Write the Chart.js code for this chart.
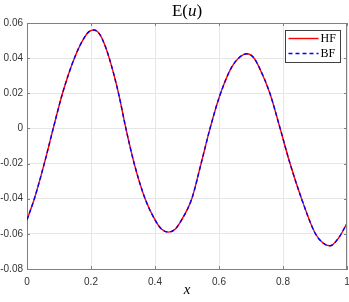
<!DOCTYPE html>
<html>
<head>
<meta charset="utf-8">
<script src="https://cdn.jsdelivr.net/npm/chart.js@4"></script>
<style>
  html, body { margin: 0; padding: 0; background: #fff; }
</style>
</head>
<body>
<canvas id="chart" width="349" height="302"></canvas>
<script>
// values
const xs = [0, 0.023, 0.054, 0.082, 0.111, 0.148, 0.18, 0.195, 0.209, 0.222, 0.235, 0.257, 0.286, 0.309,
  0.335, 0.369, 0.40, 0.42, 0.442, 0.462, 0.48, 0.515, 0.544, 0.572, 0.603, 0.64, 0.665, 0.687, 0.708, 0.725,
  0.759, 0.791, 0.822, 0.858, 0.90, 0.925, 0.947, 0.975, 1.0];
const hf = [-0.052, -0.040, -0.020, 0.000, 0.020, 0.040, 0.052, 0.0552, 0.056, 0.0548, 0.051, 0.040, 0.020, 0.000,
  -0.020, -0.040, -0.052, -0.0572, -0.059, -0.0575, -0.053, -0.040, -0.020, 0.000, 0.019, 0.035, 0.0406, 0.0425, 0.0404, 0.035,
  0.020, 0.000, -0.020, -0.040, -0.0595, -0.0652, -0.0668, -0.062, -0.054];
const bf = [-0.052, -0.040, -0.020, 0.000, 0.020, 0.040, 0.052, 0.0552, 0.056, 0.0548, 0.051, 0.040, 0.020, 0.000,
  -0.020, -0.040, -0.052, -0.0572, -0.059, -0.0575, -0.053, -0.040, -0.020, 0.000, 0.019, 0.035, 0.0406, 0.0425, 0.0404, 0.035,
  0.020, 0.000, -0.020, -0.040, -0.0595, -0.0652, -0.0668, -0.062, -0.054];
const xTicks = [0, 0.2, 0.4, 0.6, 0.8, 1];
const yTicks = [-0.08, -0.06, -0.04, -0.02, 0, 0.02, 0.04, 0.06];
const seriesNames = ["HF", "BF"];
const titleParts = ["E(", "u", ")"];
const xLabel = "x";

const axisColor = "#808080";
const gridColor = "#e6e6e6";
const serif = "'Liberation Serif', 'DejaVu Serif', serif";
const sans = "'Liberation Sans', Arial, sans-serif";

// MATLAB style box, inner ticks, title and legend
const matlabBox = {
  id: "matlabBox",
  afterDraw(chart) {
    const ctx = chart.ctx;
    const { left, right, top, bottom } = chart.chartArea;
    const sx = chart.scales.x, sy = chart.scales.y;
    ctx.save();
    ctx.strokeStyle = axisColor;
    ctx.lineWidth = 1;
    ctx.beginPath();
    ctx.moveTo(left, top + 0.5); ctx.lineTo(right, top + 0.5);
    ctx.moveTo(right - 0.5, top); ctx.lineTo(right - 0.5, bottom);
    for (const v of xTicks) {
      const p = Math.round(sx.getPixelForValue(v)) + 0.5;
      ctx.moveTo(p, bottom); ctx.lineTo(p, bottom - 3);
      ctx.moveTo(p, top); ctx.lineTo(p, top + 3);
    }
    for (const v of yTicks) {
      const p = Math.round(sy.getPixelForValue(v)) + 0.5;
      ctx.moveTo(left, p); ctx.lineTo(left + 3, p);
      ctx.moveTo(right, p); ctx.lineTo(right - 3, p);
    }
    ctx.stroke();

    // title
    ctx.fillStyle = "#000";
    ctx.textBaseline = "alphabetic";
    const fonts = ["17px " + serif, "italic 17px " + serif, "17px " + serif];
    let w = 0;
    titleParts.forEach((t, i) => { ctx.font = fonts[i]; w += ctx.measureText(t).width; });
    let tx = (left + right) / 2 - w / 2;
    titleParts.forEach((t, i) => {
      ctx.font = fonts[i];
      ctx.fillText(t, tx, 16);
      tx += ctx.measureText(t).width;
    });

    // legend
    const lx = 285.5, ly = 30.5, lw = 55, lh = 32;
    ctx.fillStyle = "#fff";
    ctx.fillRect(lx, ly, lw, lh);
    ctx.strokeStyle = "#404040";
    ctx.strokeRect(lx, ly, lw, lh);
    chart.data.datasets.forEach((ds, i) => {
      const y = ly + 8 + i * 15;
      ctx.strokeStyle = ds.borderColor;
      ctx.lineWidth = ds.borderWidth;
      ctx.setLineDash(ds.borderDash || []);
      ctx.beginPath();
      ctx.moveTo(lx + 3, y); ctx.lineTo(lx + 33, y);
      ctx.stroke();
      ctx.setLineDash([]);
      ctx.fillStyle = "#000";
      ctx.font = "12px " + serif;
      ctx.textBaseline = "middle";
      ctx.fillText(ds.label, lx + 35, y + 0.5);
    });
    ctx.restore();
  }
};

new Chart(document.getElementById("chart"), {
  type: "line",
  data: {
    labels: xs,
    datasets: [
      {
        label: seriesNames[0],
        data: xs.map((x, i) => ({ x, y: hf[i] })),
        borderColor: "#ff0000",
        borderWidth: 1.4,
        order: 1,
      },
      {
        label: seriesNames[1],
        data: xs.map((x, i) => ({ x, y: bf[i] })),
        borderColor: "#0000ff",
        borderWidth: 1.4,
        borderDash: [4, 3],
        order: 0,
      },
    ],
  },
  options: {
    responsive: false,
    animation: false,
    devicePixelRatio: 1,
    layout: { padding: { top: 23, right: 2, left: 0, bottom: 0 } },
    elements: {
      point: { radius: 0 },
      line: { cubicInterpolationMode: "monotone", fill: false },
    },
    plugins: {
      legend: { display: false },
      title: { display: false },
      tooltip: { enabled: false },
    },
    scales: {
      x: {
        type: "linear",
        min: 0,
        max: 1,
        afterBuildTicks: (s) => { s.ticks = xTicks.map((v) => ({ value: v })); },
        afterFit: (s) => { s.height = 33; s.paddingLeft = 0; s.paddingRight = 0; },
        grid: { color: gridColor, drawTicks: false },
        border: { color: axisColor },
        ticks: {
          padding: 7,
          color: "#333",
          font: { family: sans, size: 10 },
          maxRotation: 0,
          callback: (v) => (v === 0 || v === 1 ? String(v) : v.toFixed(1)),
        },
        title: {
          display: true,
          text: xLabel,
          color: "#000",
          padding: { top: 0, bottom: 4 },
          font: { family: serif, size: 15, style: "italic", lineHeight: 1 },
        },
      },
      y: {
        min: -0.08,
        max: 0.06,
        afterBuildTicks: (s) => { s.ticks = yTicks.map((v) => ({ value: v })); },
        afterFit: (s) => { s.width = 27; s.paddingTop = 0; s.paddingBottom = 0; },
        grid: { color: gridColor, drawTicks: false },
        border: { color: axisColor },
        ticks: {
          padding: 4,
          color: "#333",
          font: { family: sans, size: 10 },
          callback: (v) => (Math.abs(v) < 1e-9 ? "0" : v.toFixed(2)),
        },
      },
    },
  },
  plugins: [matlabBox],
});
</script>
</body>
</html>
